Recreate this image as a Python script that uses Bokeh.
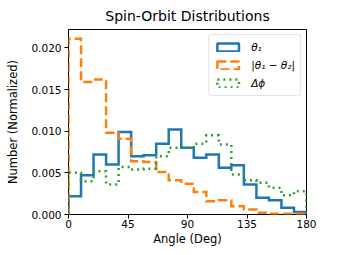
import numpy as np
from bokeh.plotting import figure
from bokeh.models import Range1d, FixedTicker, NumeralTickFormatter, Legend, LegendItem
from bokeh.embed import file_html
from bokeh.resources import INLINE

# --- data ---
x_min, x_max = 0, 180
n_bins = 19
theta1 = [0.0022, 0.0047, 0.0072, 0.0060, 0.0099, 0.0070, 0.0071, 0.0085, 0.0102, 0.0080,
          0.0068, 0.0072, 0.0056, 0.0059, 0.0036, 0.0020, 0.0017, 0.0008, 0.0003]
dtheta = [0.0211, 0.0159, 0.0162, 0.0098, 0.0091, 0.0064, 0.0063, 0.0051, 0.0041, 0.0037,
          0.0027, 0.0016, 0.0017, 0.0010, 0.0006, 0.0002, 0.0001, 0.0001, 0.0001]
dphi = [0.0050, 0.0040, 0.0052, 0.0036, 0.0057, 0.0054, 0.0055, 0.0070, 0.0080, 0.0080,
        0.0085, 0.0095, 0.0084, 0.0048, 0.0041, 0.0038, 0.0032, 0.0023, 0.0028]
labels = ["θ₁", "|θ₁ − θ₂|", "Δϕ"]
colors = ["#1f77b4", "#ff7f0e", "#2ca02c"]
dashes = ["solid", "9 4", "2 4"]
x_ticks = [0, 45, 90, 135, 180]
y_ticks = [0.0, 0.005, 0.010, 0.015, 0.020]
y_max = 0.0222

edges = np.linspace(x_min, x_max, n_bins + 1)


def step_outline(vals):
    xs = [edges[0]]
    ys = [0.0]
    for i, v in enumerate(vals):
        xs += [edges[i], edges[i + 1]]
        ys += [v, v]
    xs.append(edges[-1])
    ys.append(0.0)
    return xs, ys


FONT = "DejaVu Sans"
p = figure(frame_width=238, frame_height=185, output_backend="svg", toolbar_location=None,
           x_range=Range1d(x_min, x_max), y_range=Range1d(0, y_max),
           title="Spin-Orbit Distributions",
           min_border_left=68, min_border_right=16, min_border_top=0, min_border_bottom=0)
p.title.text_font = FONT
p.title.text_font_size = "14px"
p.title.text_font_style = "normal"
p.title.text_color = "black"
p.title.align = "center"
p.title.offset = 17
p.title.standoff = 11

p.xgrid.visible = False
p.ygrid.visible = False
p.outline_line_color = "black"
p.outline_line_width = 1
p.outline_line_alpha = 1

for ax in (p.xaxis[0], p.yaxis[0]):
    ax.axis_line_color = None
    ax.major_tick_in = 0
    ax.major_tick_out = 4
    ax.major_tick_line_color = "black"
    ax.minor_tick_line_color = None
    ax.major_label_text_font = FONT
    ax.major_label_text_font_size = "10.5px"
    ax.major_label_text_color = "black"
    ax.axis_label_text_font = FONT
    ax.axis_label_text_font_size = "11.5px"
    ax.axis_label_text_font_style = "normal"
    ax.axis_label_text_color = "black"
p.xaxis.major_label_standoff = 1
p.xaxis.axis_label_standoff = 1
p.yaxis.major_label_standoff = 3
p.yaxis.axis_label_standoff = 8

p.xaxis.ticker = FixedTicker(ticks=x_ticks)
p.yaxis.ticker = FixedTicker(ticks=y_ticks)
p.yaxis.formatter = NumeralTickFormatter(format="0.000")
p.xaxis.axis_label = "Angle (Deg)"
p.yaxis.axis_label = "Number (Normalized)"

items = []
for vals, lab, col, dash in zip([theta1, dtheta, dphi], labels, colors, dashes):
    xs, ys = step_outline(vals)
    p.line(xs, ys, line_color=col, line_width=2.5, line_dash=dash, line_join="miter")
    q = p.quad(left=[-50], right=[-40], top=[-1], bottom=[-2], fill_alpha=0, line_color=col,
               line_width=2.5, line_dash=dash)
    items.append(LegendItem(label=lab, renderers=[q]))

legend = Legend(items=items, location="top_right")
legend.label_text_font = FONT
legend.label_text_font_size = "10.5px"
legend.label_text_font_style = "italic"
legend.label_text_color = "black"
legend.glyph_width = 27
legend.glyph_height = 10
legend.label_height = 14
legend.label_standoff = 10
legend.spacing = 4
legend.padding = 5
legend.margin = 5
legend.border_line_color = "#cccccc"
legend.border_line_width = 1
legend.border_radius = 3
legend.background_fill_alpha = 0.8
p.add_layout(legend)

open("out.html", "w").write(file_html(p, INLINE))
